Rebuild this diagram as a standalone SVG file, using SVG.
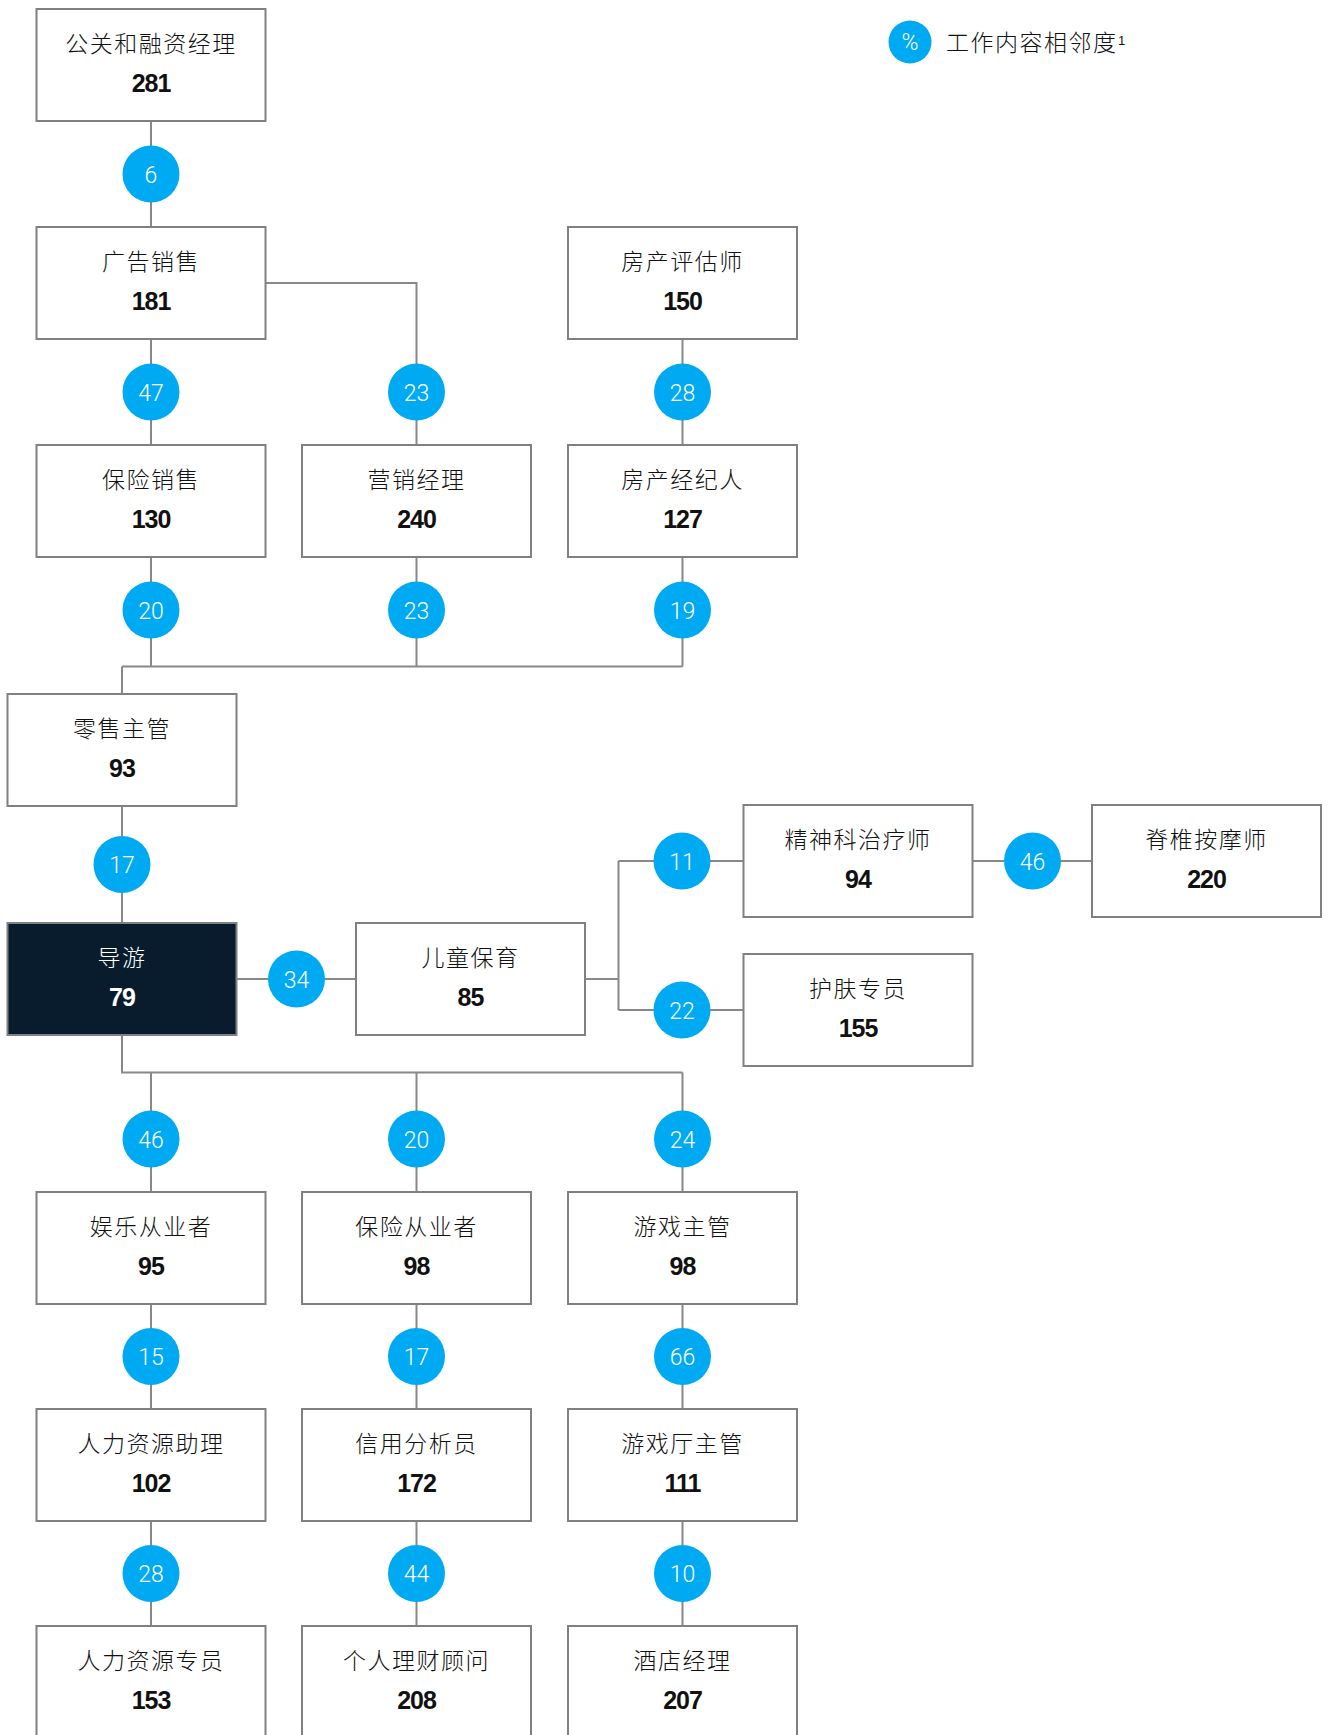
<svg xmlns="http://www.w3.org/2000/svg" width="1328" height="1735" viewBox="0 0 1328 1735">
<style>
.box{fill:#fff;stroke:#808080;stroke-width:2}
.dark{fill:#081c2d;stroke:#808080;stroke-width:2}
.lbl{font-family:"Noto Sans CJK SC","Noto Sans CJK JP",sans-serif;font-size:23px;font-weight:300;fill:#111;text-anchor:middle;letter-spacing:1.5px}
.num{font-family:"Liberation Sans",Arial,sans-serif;font-size:25px;font-weight:bold;fill:#111;text-anchor:middle;letter-spacing:-1px}
.w{fill:#fff}
.ln{fill:none;stroke:#888;stroke-width:2}
.dot{fill:#00aaf2}
.pct{font-family:Roboto,"Liberation Sans",sans-serif;font-size:23px;font-weight:300;fill:#fff;text-anchor:middle}
.leg{font-family:"Noto Sans CJK SC","Noto Sans CJK JP",sans-serif;font-size:23px;font-weight:300;fill:#111;letter-spacing:1.5px}
</style>
<rect width="1328" height="1735" fill="#fff"/>
<g id="connectors">
<path class="ln" d="M151 121V227"/>
<path class="ln" d="M265.5 283H416.5V445"/>
<path class="ln" d="M151 339V445"/>
<path class="ln" d="M682.5 339V445"/>
<path class="ln" d="M151 557V666.5M416.5 557V666.5M682.5 557V666.5M122 666.5H682.5M122 666.5V694"/>
<path class="ln" d="M122 806V923"/>
<path class="ln" d="M236.5 979H356"/>
<path class="ln" d="M585 979H618.5M618.5 861V1010M618.5 861H743.5M618.5 1010H743.5"/>
<path class="ln" d="M972.5 861H1092"/>
<path class="ln" d="M122 1035V1072.5H682.5M151 1072.5V1192M416.5 1072.5V1192M682.5 1072.5V1192"/>
<path class="ln" d="M151 1304V1409M416.5 1304V1409M682.5 1304V1409"/>
<path class="ln" d="M151 1521V1626M416.5 1521V1626M682.5 1521V1626"/>
<g id="edge-labels">
<circle class="dot" cx="151" cy="174" r="28.5"/><text class="pct" x="151" y="182.5">6</text>
<circle class="dot" cx="151" cy="392" r="28.5"/><text class="pct" x="151" y="400.5">47</text>
<circle class="dot" cx="416.5" cy="392" r="28.5"/><text class="pct" x="416.5" y="400.5">23</text>
<circle class="dot" cx="682.5" cy="392" r="28.5"/><text class="pct" x="682.5" y="400.5">28</text>
<circle class="dot" cx="151" cy="610" r="28.5"/><text class="pct" x="151" y="618.5">20</text>
<circle class="dot" cx="416.5" cy="610" r="28.5"/><text class="pct" x="416.5" y="618.5">23</text>
<circle class="dot" cx="682.5" cy="610" r="28.5"/><text class="pct" x="682.5" y="618.5">19</text>
<circle class="dot" cx="122" cy="864.5" r="28.5"/><text class="pct" x="122" y="873">17</text>
<circle class="dot" cx="296.5" cy="979" r="28.5"/><text class="pct" x="296.5" y="987.5">34</text>
<circle class="dot" cx="682" cy="861" r="28.5"/><text class="pct" x="682" y="869.5">11</text>
<circle class="dot" cx="682" cy="1010" r="28.5"/><text class="pct" x="682" y="1018.5">22</text>
<circle class="dot" cx="1032.5" cy="861" r="28.5"/><text class="pct" x="1032.5" y="869.5">46</text>
<circle class="dot" cx="151" cy="1139" r="28.5"/><text class="pct" x="151" y="1147.5">46</text>
<circle class="dot" cx="416.5" cy="1139" r="28.5"/><text class="pct" x="416.5" y="1147.5">20</text>
<circle class="dot" cx="682.5" cy="1139" r="28.5"/><text class="pct" x="682.5" y="1147.5">24</text>
<circle class="dot" cx="151" cy="1356.5" r="28.5"/><text class="pct" x="151" y="1365">15</text>
<circle class="dot" cx="416.5" cy="1356.5" r="28.5"/><text class="pct" x="416.5" y="1365">17</text>
<circle class="dot" cx="682.5" cy="1356.5" r="28.5"/><text class="pct" x="682.5" y="1365">66</text>
<circle class="dot" cx="151" cy="1573.5" r="28.5"/><text class="pct" x="151" y="1582">28</text>
<circle class="dot" cx="416.5" cy="1573.5" r="28.5"/><text class="pct" x="416.5" y="1582">44</text>
<circle class="dot" cx="682.5" cy="1573.5" r="28.5"/><text class="pct" x="682.5" y="1582">10</text>
</g>
</g>
<g id="legend">
<circle class="dot" cx="910" cy="42" r="21.5"/><text class="pct" x="910" y="50">%</text>
<text class="leg" x="946" y="51">工作内容相邻度</text>
<text x="1118" y="45" style="font-family:'Liberation Sans',sans-serif;font-size:13px;fill:#111">1</text>
</g>
<g id="n-pr"><rect class="box" x="36.5" y="9" width="229" height="112"/><text class="lbl" x="151" y="52">公关和融资经理</text><text class="num" x="151" y="92">281</text></g>
<g id="n-adsales"><rect class="box" x="36.5" y="227" width="229" height="112"/><text class="lbl" x="151" y="270">广告销售</text><text class="num" x="151" y="310">181</text></g>
<g id="n-appraiser"><rect class="box" x="568" y="227" width="229" height="112"/><text class="lbl" x="682.5" y="270">房产评估师</text><text class="num" x="682.5" y="310">150</text></g>
<g id="n-inssales"><rect class="box" x="36.5" y="445" width="229" height="112"/><text class="lbl" x="151" y="488">保险销售</text><text class="num" x="151" y="528">130</text></g>
<g id="n-marketing"><rect class="box" x="302" y="445" width="229" height="112"/><text class="lbl" x="416.5" y="488">营销经理</text><text class="num" x="416.5" y="528">240</text></g>
<g id="n-agent"><rect class="box" x="568" y="445" width="229" height="112"/><text class="lbl" x="682.5" y="488">房产经纪人</text><text class="num" x="682.5" y="528">127</text></g>
<g id="n-retail"><rect class="box" x="7.5" y="694" width="229" height="112"/><text class="lbl" x="122" y="737">零售主管</text><text class="num" x="122" y="777">93</text></g>
<g id="n-guide"><rect class="dark" x="7.5" y="923" width="229" height="112"/><text class="lbl w" x="122" y="966">导游</text><text class="num w" x="122" y="1006">79</text></g>
<g id="n-childcare"><rect class="box" x="356" y="923" width="229" height="112"/><text class="lbl" x="470.5" y="966">儿童保育</text><text class="num" x="470.5" y="1006">85</text></g>
<g id="n-psych"><rect class="box" x="743.5" y="805" width="229" height="112"/><text class="lbl" x="858" y="848">精神科治疗师</text><text class="num" x="858" y="888">94</text></g>
<g id="n-chiro"><rect class="box" x="1092" y="805" width="229" height="112"/><text class="lbl" x="1206.5" y="848">脊椎按摩师</text><text class="num" x="1206.5" y="888">220</text></g>
<g id="n-skin"><rect class="box" x="743.5" y="954" width="229" height="112"/><text class="lbl" x="858" y="997">护肤专员</text><text class="num" x="858" y="1037">155</text></g>
<g id="n-ent"><rect class="box" x="36.5" y="1192" width="229" height="112"/><text class="lbl" x="151" y="1235">娱乐从业者</text><text class="num" x="151" y="1275">95</text></g>
<g id="n-ins"><rect class="box" x="302" y="1192" width="229" height="112"/><text class="lbl" x="416.5" y="1235">保险从业者</text><text class="num" x="416.5" y="1275">98</text></g>
<g id="n-gaming"><rect class="box" x="568" y="1192" width="229" height="112"/><text class="lbl" x="682.5" y="1235">游戏主管</text><text class="num" x="682.5" y="1275">98</text></g>
<g id="n-hrasst"><rect class="box" x="36.5" y="1409" width="229" height="112"/><text class="lbl" x="151" y="1452">人力资源助理</text><text class="num" x="151" y="1492">102</text></g>
<g id="n-credit"><rect class="box" x="302" y="1409" width="229" height="112"/><text class="lbl" x="416.5" y="1452">信用分析员</text><text class="num" x="416.5" y="1492">172</text></g>
<g id="n-hall"><rect class="box" x="568" y="1409" width="229" height="112"/><text class="lbl" x="682.5" y="1452">游戏厅主管</text><text class="num" x="682.5" y="1492">111</text></g>
<g id="n-hrspec"><rect class="box" x="36.5" y="1626" width="229" height="112"/><text class="lbl" x="151" y="1669">人力资源专员</text><text class="num" x="151" y="1709">153</text></g>
<g id="n-finadv"><rect class="box" x="302" y="1626" width="229" height="112"/><text class="lbl" x="416.5" y="1669">个人理财顾问</text><text class="num" x="416.5" y="1709">208</text></g>
<g id="n-hotel"><rect class="box" x="568" y="1626" width="229" height="112"/><text class="lbl" x="682.5" y="1669">酒店经理</text><text class="num" x="682.5" y="1709">207</text></g>
</svg>
